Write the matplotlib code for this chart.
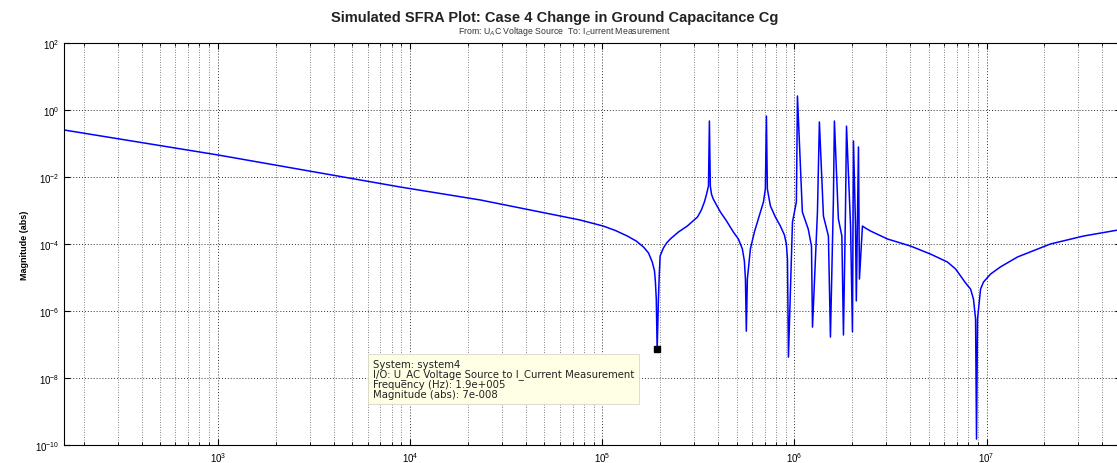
import matplotlib
matplotlib.use("Agg")
import matplotlib.pyplot as plt
from matplotlib.ticker import LogLocator, NullLocator, NullFormatter

plt.rcParams['font.family'] = ['Liberation Sans', 'DejaVu Sans']

# frequency (Hz) and magnitude (abs)
freq = [158, 1000, 8870, 2.32e4, 6.04e4, 7.67e4, 1.01e5, 1.17e5, 1.35e5, 1.50e5,
        1.64e5, 1.74e5, 1.82e5, 1.87e5, 1.89e5, 1.91e5, 1.93e5, 1.96e5, 1.98e5, 2.0e5,
        2.08e5, 2.16e5, 2.26e5, 2.49e5, 2.77e5, 3.13e5, 3.28e5, 3.40e5, 3.48e5, 3.57e5,
        3.61e5, 3.65e5, 3.70e5, 3.78e5, 3.93e5, 4.12e5, 4.43e5, 4.81e5, 5.11e5, 5.36e5,
        5.49e5, 5.56e5, 5.62e5, 5.69e5, 5.76e5, 5.90e5, 6.19e5, 6.49e5, 6.90e5, 7.06e5,
        7.15e5, 7.23e5, 7.5e5, 7.96e5, 8.45e5, 8.87e5, 9.08e5, 9.2e5, 9.31e5, 9.77e5,
        1.024e6, 1.037e6, 1.10e6, 1.18e6, 1.227e6, 1.242e6, 1.318e6, 1.349e6, 1.416e6, 1.503e6,
        1.54e6, 1.596e6, 1.615e6, 1.694e6, 1.766e6, 1.80e6, 1.845e6, 1.867e6, 1.96e6, 2.005e6,
        2.03e6, 2.08e6, 2.10e6, 2.155e6, 2.18e6, 2.26e6, 2.34e6, 2.49e6, 3.05e6, 4.02e6,
        5.11e6, 6.26e6, 6.90e6, 7.33e6, 7.78e6, 8.26e6, 8.55e6, 8.77e6, 8.87e6, 8.98e6,
        9.31e6, 9.64e6, 1.05e7, 1.18e7, 1.45e7, 2.15e7, 3.2e7, 4.81e7]
mag = [0.253, 0.0454, 0.00503, 2.06e-3, 6.85e-4, 5.2e-4, 3.44e-4, 2.53e-4, 1.73e-4, 1.23e-4,
       8.1e-5, 5.4e-5, 2.9e-5, 1.56e-5, 7.3e-6, 2.28e-6, 7.3e-8, 2.28e-6, 1.27e-5, 4.4e-5,
       7.6e-5, 1.07e-4, 1.41e-4, 2.28e-4, 3.44e-4, 6.4e-4, 1.04e-3, 1.8e-3, 2.9e-3, 5.4e-3,
       0.47, 5.4e-3, 3.1e-3, 2.2e-3, 1.46e-3, 9.0e-4, 4.9e-4, 2.28e-4, 1.41e-4, 7.1e-5,
       3.1e-5, 9.0e-6, 2.5e-7, 9.0e-6, 1.8e-5, 7.1e-5, 2.28e-4, 5.6e-4, 1.8e-3, 4.4e-3,
       0.66, 4.4e-3, 1.36e-3, 6.4e-4, 3.44e-4, 1.86e-4, 1.0e-4, 3.56e-5, 4.2e-8, 4.5e-4,
       1.8e-3, 2.62, 9.0e-4, 2.8e-4, 8.7e-5, 3.3e-7, 9.0e-4, 0.44, 6.85e-4, 1.73e-4,
       1.67e-7, 2.2e-3, 0.47, 5.6e-4, 1.73e-4, 1.92e-7, 1.1e-3, 0.33, 3.44e-4, 2.4e-7,
       0.119, 3.44e-4, 2.0e-6, 0.0787, 9.0e-6, 3.44e-4, 3.0e-4, 2.44e-4, 1.41e-4, 8.7e-5,
       5.0e-5, 2.9e-5, 1.8e-5, 1.11e-5, 6.85e-6, 4.5e-6, 2.28e-6, 5.8e-7, 1.5e-10, 5.8e-7,
       4.5e-6, 7.3e-6, 1.27e-5, 2.06e-5, 4.1e-5, 1.0e-4, 1.73e-4, 2.6e-4]

tip_index = 16
tip_lines = ["System: system4",
             "I/O: U_AC Voltage Source to I_Current Measurement",
             "Frequency (Hz): 1.9e+005",
             "Magnitude (abs): 7e-008"]

W, H = 1117, 464
fig = plt.figure(figsize=(W / 100, H / 100), dpi=100)
ax = fig.add_axes([64 / W, (H - 446) / H, (1121 - 64) / W, (446 - 44) / H])

ax.plot(freq, mag, color='#0000ff', lw=1.1)
ax.plot(freq[tip_index], mag[tip_index], 's', color='black', ms=5)

ax.set_xscale('log')
ax.set_yscale('log')
ax.set_xlim(10 ** 2.198, 10 ** 7.70)
ax.set_ylim(1e-10, 1e2)
ax.set_yticks([1e2, 1e0, 1e-2, 1e-4, 1e-6, 1e-8, 1e-10])
ax.yaxis.set_minor_locator(NullLocator())
ax.xaxis.set_minor_locator(LogLocator(base=10, subs=range(2, 10)))
ax.xaxis.set_minor_formatter(NullFormatter())

ax.grid(which='major', axis='both', color='#303030', ls=(0, (1, 2)), lw=0.7)
ax.grid(which='minor', axis='x', color='#606060', ls=(0, (1, 2)), lw=0.6)
ax.tick_params(which='both', direction='in', top=True, right=True, labelsize=7)
ax.tick_params(which='major', length=4)
ax.tick_params(which='minor', length=2)
for s in ax.spines.values():
    s.set_linewidth(0.8)

ax.set_ylabel("Magnitude (abs)", fontsize=6.5, fontweight='bold', labelpad=4)

fig.text(555 / W, 1 - 18 / H, "Simulated SFRA Plot: Case 4 Change in Ground Capacitance Cg",
         ha='center', va='center', fontsize=10.5, fontweight='bold', color='#222222')
fig.text(564 / W, 1 - 31 / H, "From: U$_{A}$C Voltage Source  To: I$_{C}$urrent Measurement",
         ha='center', va='center', fontsize=6.3, color='#333333')

fig.text(373 / W, 1 - 380 / H, "\n".join(tip_lines), ha='left', va='center',
         family=['DejaVu Sans'], fontsize=7.3, linespacing=1.0, color='#222222',
         bbox=dict(boxstyle='square,pad=0.45', fc='#ffffe6', ec='#d8d8c8', lw=0.6))

fig.savefig("out.png", dpi=100)
